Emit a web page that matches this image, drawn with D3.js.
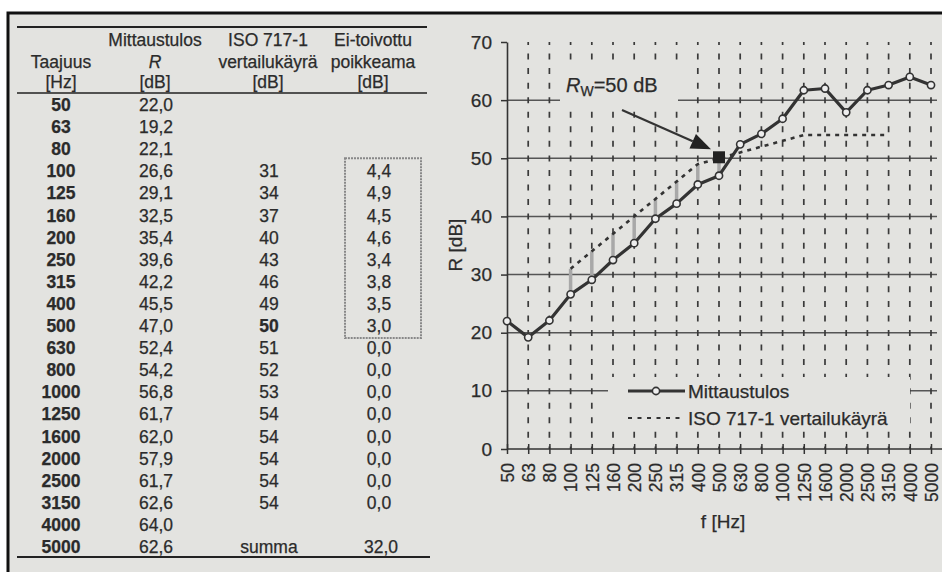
<!DOCTYPE html>
<html>
<head>
<meta charset="utf-8">
<script src="https://cdn.jsdelivr.net/npm/d3@7"></script>
<style>
  body { margin: 0; background: #fff; }
  svg { display: block; font-family: "Liberation Sans", Arial, sans-serif; }
</style>
</head>
<body>
<div id="chart"></div>
<script>
var freqs = [50, 63, 80, 100, 125, 160, 200, 250, 315, 400, 500, 630, 800, 1000, 1250, 1600, 2000, 2500, 3150, 4000, 5000];
var measured = [22.0, 19.2, 22.1, 26.6, 29.1, 32.5, 35.4, 39.6, 42.2, 45.5, 47.0, 52.4, 54.2, 56.8, 61.7, 62.0, 57.9, 61.7, 62.6, 64.0, 62.6];
var reference = [null, null, null, 31, 34, 37, 40, 43, 46, 49, 50, 51, 52, 53, 54, 54, 54, 54, 54, null, null];
var deviation = [null, null, null, 4.4, 4.9, 4.5, 4.6, 3.4, 3.8, 3.5, 3.0, 0.0, 0.0, 0.0, 0.0, 0.0, 0.0, 0.0, 0.0, null, null];
var devSum = 32.0;   // as printed in the table
var yTicks = [0, 10, 20, 30, 40, 50, 60, 70];
var rw = 50;
var headLine1 = ['', 'Mittaustulos', 'ISO 717-1', 'Ei-toivottu'];
var headLine2 = ['Taajuus', 'R', 'vertailukäyrä', 'poikkeama'];
var headLine3 = ['[Hz]', '[dB]', '[dB]', '[dB]'];
var legendLabels = ['Mittaustulos', 'ISO 717-1 vertailukäyrä'];

var paper = '#e3e3e0';
var ink = '#2b2b2b';

var width = 942, height = 572;
var svg = d3.select('#chart').append('svg')
  .attr('width', width)
  .attr('height', height);

// photo frame
svg.append('rect').attr('x', 0).attr('y', 0).attr('width', width).attr('height', height).attr('fill', '#fff');
svg.append('rect').attr('x', 8).attr('y', 13).attr('width', 950).attr('height', 600)
  .attr('fill', paper).attr('stroke', '#111').attr('stroke-width', 3);

var fi = d3.formatLocale({decimal: ',', thousands: ' ', grouping: [3], currency: ['', '']}).format('.1f');

// ---------- table ----------
var table = svg.append('g').attr('fill', ink).attr('font-size', 17.5)
  .attr('stroke', ink).attr('stroke-width', 0.25);
var colX = [61, 155, 268, 373];
var valX = [61, 156, 269, 379];
var rowY = d3.scaleLinear().domain([0, 1]).range([111, 133.1]);

table.append('line').attr('x1', 17).attr('x2', 427).attr('y1', 27).attr('y2', 27)
  .attr('stroke', '#222').attr('stroke-width', 2);
table.append('line').attr('x1', 17).attr('x2', 427).attr('y1', 93).attr('y2', 93)
  .attr('stroke', '#222').attr('stroke-width', 1.6);
table.append('line').attr('x1', 17).attr('x2', 430).attr('y1', 557).attr('y2', 557)
  .attr('stroke', '#222').attr('stroke-width', 2);

[[headLine1, 46], [headLine2, 68], [headLine3, 88]].forEach(function(h){
  table.selectAll(null)
    .data(h[0])
    .enter()
    .append('text')
    .text(function(d){ return d; })
    .attr('x', function(d, i){ return colX[i]; })
    .attr('y', h[1])
    .attr('text-anchor', 'middle')
    .attr('font-style', function(d){ return d === 'R' ? 'italic' : null; });
});

var rows = table.selectAll('g.row')
  .data(freqs)
  .enter()
  .append('g')
  .attr('class', 'row')
  .attr('transform', function(d, i){ return 'translate(0,' + rowY(i) + ')'; });

rows.append('text')
  .text(function(d){ return d; })
  .attr('x', valX[0])
  .attr('text-anchor', 'middle')
  .attr('font-weight', 'bold');
rows.append('text')
  .text(function(d, i){ return fi(measured[i]); })
  .attr('x', valX[1])
  .attr('text-anchor', 'middle');
rows.append('text')
  .text(function(d, i){ return reference[i] === null ? '' : reference[i]; })
  .attr('x', valX[2])
  .attr('text-anchor', 'middle')
  .attr('font-weight', function(d, i){ return reference[i] === rw ? 'bold' : null; });
rows.append('text')
  .text(function(d, i){ return deviation[i] === null ? '' : fi(deviation[i]); })
  .attr('x', valX[3])
  .attr('text-anchor', 'middle');

table.append('text').text('summa')
  .attr('x', valX[2]).attr('y', rowY(freqs.length - 1)).attr('text-anchor', 'middle');
table.append('text').text(fi(devSum))
  .attr('x', valX[3] + 2).attr('y', rowY(freqs.length - 1)).attr('text-anchor', 'middle');

// dotted box round the non-zero deviations
var devIdx = deviation.map(function(d, i){ return d > 0 ? i : -1; }).filter(function(i){ return i >= 0; });
table.append('rect')
  .attr('x', 345).attr('width', 76)
  .attr('y', rowY(d3.min(devIdx)) - 19)
  .attr('height', rowY(d3.max(devIdx)) - rowY(d3.min(devIdx)) + 25)
  .attr('fill', 'none').attr('stroke', '#888').attr('stroke-width', 2)
  .attr('stroke-dasharray', '2,1');

// ---------- chart ----------
var x = d3.scalePoint().domain(freqs).range([507, 931]);
var y = d3.scaleLinear().domain([0, 70]).range([449, 42]);
var chart = svg.append('g');

// horizontal grid
chart.selectAll('line.h')
  .data(yTicks.filter(function(d){ return d > 0 && d < 70; }))
  .enter()
  .append('line')
  .attr('x1', 507).attr('x2', 937)
  .attr('y1', function(d){ return y(d); })
  .attr('y2', function(d){ return y(d); })
  .attr('stroke', '#555').attr('stroke-width', 1.5);

// vertical dashed grid
chart.selectAll('line.v')
  .data(freqs.slice(1))
  .enter()
  .append('line')
  .attr('x1', function(d){ return x(d); })
  .attr('x2', function(d){ return x(d); })
  .attr('y1', y(70)).attr('y2', y(0))
  .attr('stroke', '#3a3a3a').attr('stroke-width', 1.7)
  .attr('stroke-dasharray', '6,8.55')
  .attr('stroke-dashoffset', 3);

// blank areas behind the annotation and legend
chart.append('rect').attr('x', 560).attr('y', 67).attr('width', 118).attr('height', 37).attr('fill', paper);
chart.append('rect').attr('x', 608).attr('y', 377).attr('width', 302).attr('height', 52).attr('fill', paper);

// y axis
var yAxis = d3.axisLeft(y).tickValues(yTicks).tickSize(6).tickSizeOuter(0).tickPadding(9);
var gy = chart.append('g').attr('transform', 'translate(507,0)').call(yAxis);
gy.select('.domain').attr('stroke', '#333').attr('stroke-width', 1.6);
gy.selectAll('.tick line').attr('stroke', '#333').attr('stroke-width', 1.5);
gy.selectAll('.tick text').attr('font-size', 19).attr('fill', ink)
  .attr('stroke', ink).attr('stroke-width', 0.25)
  .attr('font-family', '"Liberation Sans", Arial, sans-serif');

// x axis
var xAxis = d3.axisBottom(x).tickSize(5).tickSizeOuter(0);
var gx = chart.append('g').attr('transform', 'translate(0,' + y(0) + ')').call(xAxis);
gx.select('.domain').remove();
gx.append('line').attr('x1', 507).attr('x2', 942).attr('stroke', '#333').attr('stroke-width', 1.6);
gx.selectAll('.tick line').attr('y1', -5).attr('y2', 5).attr('stroke', '#333').attr('stroke-width', 1.5);
gx.selectAll('.tick text')
  .attr('font-size', 17.5).attr('fill', ink)
  .attr('stroke', ink).attr('stroke-width', 0.25)
  .attr('font-family', '"Liberation Sans", Arial, sans-serif')
  .attr('transform', 'rotate(-90)')
  .attr('text-anchor', 'end')
  .attr('x', -14).attr('y', 0).attr('dy', '0.36em');

// axis titles
var titles = chart.append('g').attr('font-size', 19).attr('fill', ink)
  .attr('stroke', ink).attr('stroke-width', 0.25).attr('text-anchor', 'middle');
titles.append('text').text('R [dB]')
  .attr('transform', 'translate(462,245) rotate(-90)');
titles.append('text').text('f [Hz]')
  .attr('x', 723).attr('y', 528);

// deviation bars
chart.selectAll('line.dev')
  .data(freqs.filter(function(d, i){ return deviation[i] > 0; }))
  .enter()
  .append('line')
  .attr('x1', function(d){ return x(d); })
  .attr('x2', function(d){ return x(d); })
  .attr('y1', function(d){ return y(measured[freqs.indexOf(d)]); })
  .attr('y2', function(d){ return y(reference[freqs.indexOf(d)]); })
  .attr('stroke', '#a8a8a8').attr('stroke-width', 3.5);

// reference curve
var refLine = d3.line()
  .defined(function(d, i){ return reference[i] !== null; })
  .x(function(d){ return x(d); })
  .y(function(d, i){ return y(reference[i]); });
chart.append('path')
  .datum(freqs)
  .attr('d', refLine)
  .attr('fill', 'none').attr('stroke', '#333').attr('stroke-width', 2.6)
  .attr('stroke-dasharray', '4,5');

// measured curve
var measLine = d3.line()
  .x(function(d){ return x(d); })
  .y(function(d, i){ return y(measured[i]); });
chart.append('path')
  .datum(freqs)
  .attr('d', measLine)
  .attr('fill', 'none').attr('stroke', '#333').attr('stroke-width', 3.2)
  .attr('stroke-linejoin', 'round');
chart.selectAll('circle.m')
  .data(freqs)
  .enter()
  .append('circle')
  .attr('cx', function(d){ return x(d); })
  .attr('cy', function(d, i){ return y(measured[i]); })
  .attr('r', 3.6)
  .attr('fill', '#eee').attr('stroke', '#333').attr('stroke-width', 1.6);

// Rw marker and annotation
var rwFreq = freqs[reference.indexOf(rw)];
chart.append('rect')
  .attr('x', x(rwFreq) - 6).attr('y', y(rw) - 7)
  .attr('width', 12).attr('height', 12)
  .attr('fill', '#222');

var tipX = x(rwFreq) - 8, tipY = y(rw) - 9;
var startX = 622, startY = 110;
var ang = Math.atan2(tipY - startY, tipX - startX);
var hl = 20, hw = 8;
var bx = tipX - hl * Math.cos(ang), by = tipY - hl * Math.sin(ang);
chart.append('line')
  .attr('x1', startX).attr('y1', startY)
  .attr('x2', bx).attr('y2', by)
  .attr('stroke', '#333').attr('stroke-width', 2.2);
chart.append('path')
  .attr('d', 'M' + tipX + ',' + tipY +
    'L' + (bx + hw * Math.sin(ang)) + ',' + (by - hw * Math.cos(ang)) +
    'L' + (bx - hw * Math.sin(ang)) + ',' + (by + hw * Math.cos(ang)) + 'Z')
  .attr('fill', '#222');

var rwText = chart.append('text').attr('x', 566).attr('y', 92).attr('font-size', 20)
  .attr('fill', ink).attr('stroke', ink).attr('stroke-width', 0.25);
rwText.append('tspan').text('R').attr('font-style', 'italic');
rwText.append('tspan').text('W').attr('font-size', 14).attr('dy', 4);
rwText.append('tspan').text('=' + rw + ' dB').attr('dy', -4);

// legend
var legend = chart.append('g').attr('transform', 'translate(628,391)');
legend.append('line').attr('x1', 0).attr('x2', 57).attr('stroke', '#333').attr('stroke-width', 3.2);
legend.append('circle').attr('cx', 28).attr('r', 3.6)
  .attr('fill', '#eee').attr('stroke', '#333').attr('stroke-width', 1.6);
legend.append('line').attr('x1', 0).attr('x2', 57).attr('y1', 27).attr('y2', 27)
  .attr('stroke', '#333').attr('stroke-width', 2.2).attr('stroke-dasharray', '4,5.5');
legend.selectAll('text')
  .data(legendLabels)
  .enter()
  .append('text')
  .text(function(d){ return d; })
  .attr('x', 60)
  .attr('y', function(d, i){ return i * 27; })
  .attr('dy', '0.35em')
  .attr('font-size', 19)
  .attr('fill', ink)
  .attr('stroke', ink).attr('stroke-width', 0.25);
</script>
</body>
</html>
